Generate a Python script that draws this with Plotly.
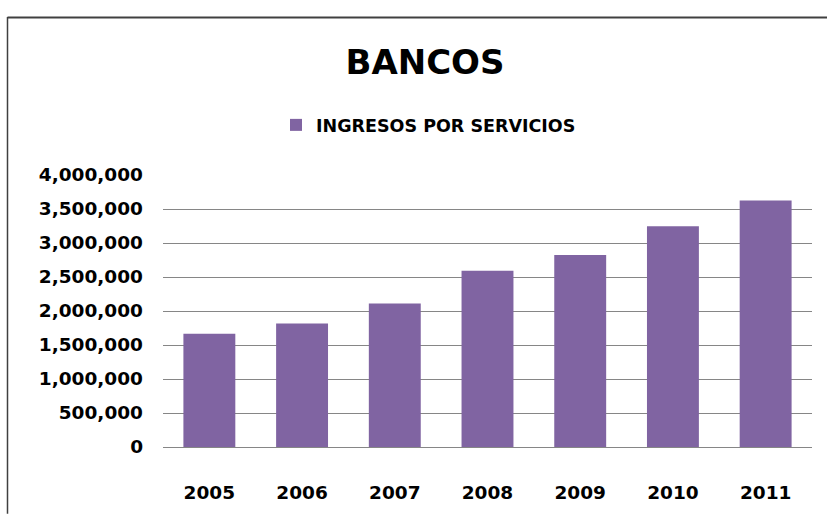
import plotly.graph_objects as go

years = ["2005", "2006", "2007", "2008", "2009", "2010", "2011"]
ingresos = [1667000, 1817000, 2110000, 2591000, 2822000, 3245000, 3625000]
series_name = "INGRESOS POR SERVICIOS"
title_text = "BANCOS"
y_ticks = [0, 500000, 1000000, 1500000, 2000000, 2500000, 3000000, 3500000, 4000000]

W, H = 827, 515
L, R, T, B = 163, 15, 175, 63
pw, ph = W - L - R, H - T - B

def px(x):
    return (x - L) / pw

def py(y):
    return (H - B - y) / ph

FONT = "DejaVu Sans"

fig = go.Figure()
fig.add_trace(go.Bar(
    x=years, y=ingresos, name=series_name,
    marker=dict(color="#8064A2", line=dict(width=0)),
    showlegend=True,
))

fig.update_layout(
    width=W, height=H,
    margin=dict(l=L, r=R, t=T, b=B),
    paper_bgcolor="white", plot_bgcolor="white",
    bargap=0.44,
    title=dict(text="<b>" + title_text + "</b>", xref="container", yref="container",
               x=425 / W, y=1 - 62 / H, xanchor="center", yanchor="middle",
               font=dict(family=FONT, size=34, color="black")),
    legend=dict(orientation="h", xref="container", yref="container",
                x=276 / W, y=1 - 125 / H, xanchor="left", yanchor="middle",
                font=dict(family=FONT, size=17.5, color="black", weight="bold"),
                bgcolor="rgba(0,0,0,0)"),
    xaxis=dict(showgrid=False, showline=True, linecolor="#868686", linewidth=1,
               ticks="", ticklabelstandoff=29,
               tickfont=dict(family=FONT, size=18.5, color="black", weight="bold")),
    yaxis=dict(range=[0, 4000000], tickvals=y_ticks, tickformat=",d",
               showgrid=True, gridcolor="#868686", gridwidth=1,
               zeroline=False, showline=False, ticks="", ticklabelstandoff=19,
               tickfont=dict(family=FONT, size=18.5, color="black", weight="bold")),
    shapes=[
        dict(type="line", xref="paper", yref="paper",
             x0=px(7.5), x1=px(830), y0=py(14.5), y1=py(14.5),
             line=dict(color="#404040", width=2)),
        dict(type="line", xref="paper", yref="paper",
             x0=px(7.5), x1=px(7.5), y0=py(14), y1=py(520),
             line=dict(color="#404040", width=1.5)),
    ],
)

fig.write_html("out.html")
